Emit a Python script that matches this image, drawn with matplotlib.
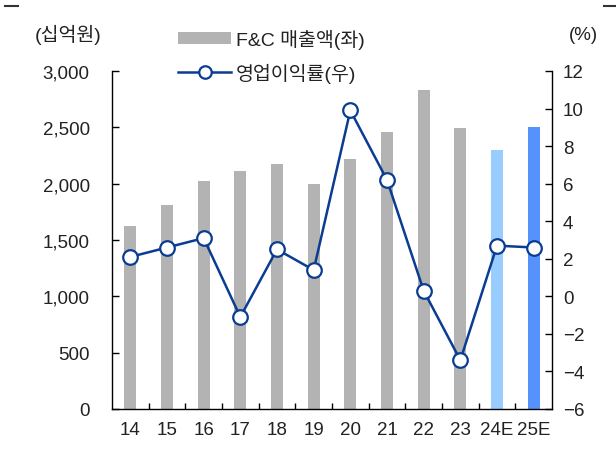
import matplotlib

matplotlib.use("Agg")
import matplotlib.pyplot as plt
from matplotlib.lines import Line2D
from matplotlib.patches import Patch

plt.rcParams["font.family"] = ["Liberation Sans", "Noto Sans CJK KR"]
plt.rcParams["axes.unicode_minus"] = True

years = ["14", "15", "16", "17", "18", "19", "20", "21", "22", "23", "24E", "25E"]
sales = [1620, 1810, 2020, 2115, 2175, 2000, 2215, 2455, 2830, 2495, 2295, 2505]
margin = [2.1, 2.6, 3.1, -1.1, 2.5, 1.4, 9.9, 6.2, 0.3, -3.4, 2.7, 2.6]
bar_colors = ["#b3b3b3"] * 10 + ["#99ccff", "#5592fb"]

NAVY = "#0a3d91"
TXT = "#222222"

fig = plt.figure(figsize=(6.16, 4.56), dpi=100)
ax = fig.add_axes([112 / 616, 1 - 410 / 456, 440 / 616, 338 / 456])
ax2 = ax.twinx()

x = list(range(len(years)))
ax.bar(x, sales, width=0.33, color=bar_colors, zorder=2)
ax2.plot(x, margin, color=NAVY, lw=1.8, marker="o", ms=10.5,
         mfc="white", mec=NAVY, mew=1.6, zorder=3)

ax.set_xlim(-0.5, len(years) - 0.5)
ax.set_ylim(0, 3000)
ax2.set_ylim(-6, 12)
ax.set_yticks(range(0, 3001, 500))
ax.set_yticklabels([f"{v:,}" for v in range(0, 3001, 500)])
ax2.set_yticks(range(-6, 13, 2))
ax2.set_yticklabels([f"{v}".replace("-", "\u2212") for v in range(-6, 13, 2)])
ax.set_xticks(x)
ax.set_xticklabels(years)
ax.set_xticks([i + 0.5 for i in x[:-1]], minor=True)

for a in (ax, ax2):
    a.spines["top"].set_visible(False)
    for s in a.spines.values():
        s.set_linewidth(1.0)
        s.set_color("black")
ax.spines["right"].set_visible(False)
ax2.spines["left"].set_visible(False)
ax2.spines["bottom"].set_visible(False)

FS = 13.5
ax.tick_params(axis="y", direction="in", length=5, width=1, pad=16,
               labelsize=FS, labelcolor=TXT)
ax.tick_params(axis="x", which="major", length=0, pad=9,
               labelsize=FS, labelcolor=TXT)
ax.tick_params(axis="x", which="minor", direction="in", length=4, width=1)
ax2.tick_params(axis="y", direction="in", length=5, width=1, pad=8,
                labelsize=FS, labelcolor=TXT)

fig.text(35 / 616, 1 - 35 / 456, "(십억원)", fontsize=14, color=TXT,
         ha="left", va="center")
fig.text(569 / 616, 1 - 35 / 456, "(%)", fontsize=FS, color=TXT,
         ha="left", va="center")

handles = [
    Patch(facecolor="#b3b3b3", edgecolor="none"),
    Line2D([], [], color=NAVY, lw=1.8, marker="o", ms=9, mfc="white",
           mec=NAVY, mew=1.6),
]
fig.legend(handles, ["F&C 매출액(좌)", "영업이익률(우)"], loc="upper left",
           bbox_to_anchor=(170 / 616, 1 - 22 / 456), frameon=False,
           fontsize=14, handlelength=2.75, handleheight=0.6,
           handletextpad=0.25, labelspacing=0.7, borderaxespad=0)
for t in fig.legends[0].get_texts():
    t.set_color(TXT)

# small corner marks present in the source image
fig.add_artist(Line2D([5 / 616, 18 / 616], [1 - 7 / 456, 1 - 7 / 456],
                      color="#333333", lw=1.5))
fig.add_artist(Line2D([604 / 616, 616 / 616], [1 - 7 / 456, 1 - 7 / 456],
                      color="#333333", lw=1.5))

fig.savefig("out.png", dpi=100)
